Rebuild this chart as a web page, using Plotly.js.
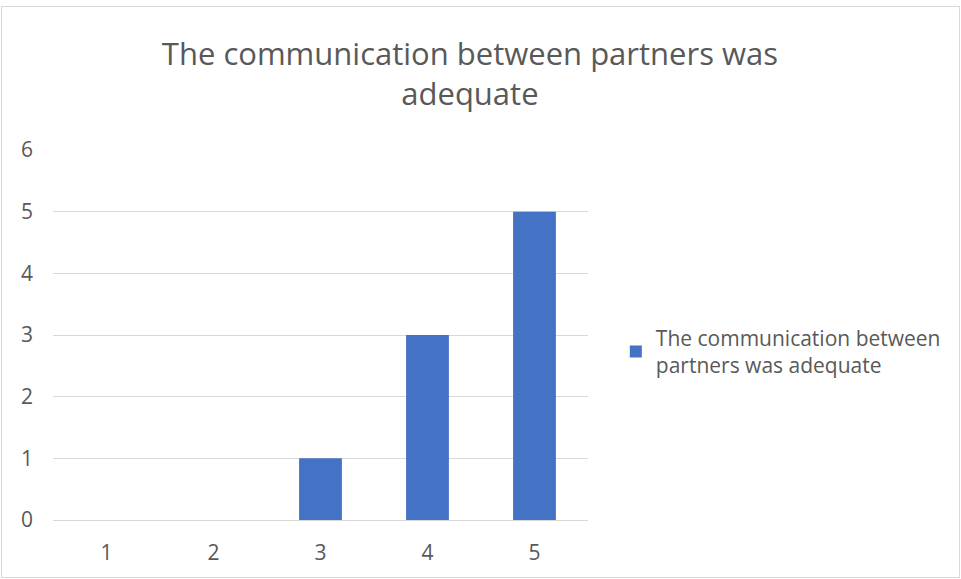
<!DOCTYPE html>
<html>
<head>
<meta charset="utf-8">
<script src="https://cdn.plot.ly/plotly-3.0.1.min.js"></script>
<style>
html,body{margin:0;padding:0;background:#fff;}
#wrap{position:relative;width:961px;height:579px;}
#chart{width:961px;height:579px;}
#frame{position:absolute;left:1px;top:6px;width:957px;height:570px;border:1px solid #d9d9d9;pointer-events:none;}
</style>
</head>
<body>
<div id="wrap"><div id="chart"></div><div id="frame"></div></div>
<script>
var categories = ['1', '2', '3', '4', '5'];
var values = [0, 0, 1, 3, 5];
var seriesName = 'The communication between<br>partners was adequate';
var chartTitle = 'The communication between partners was<br>adequate';
var yTicks = [0, 1, 2, 3, 4, 5, 6];

var font = '"Open Sans", "Liberation Sans", sans-serif';

Plotly.newPlot('chart', [{
  type: 'bar',
  x: categories,
  y: values,
  name: seriesName,
  marker: {color: '#4472C4'},
  width: 0.4,
  showlegend: true
}], {
  width: 961, height: 579,
  margin: {l: 53, r: 373, t: 150, b: 59},
  paper_bgcolor: '#fff', plot_bgcolor: '#fff',
  font: {family: font, color: '#595959'},
  title: {
    text: chartTitle,
    font: {family: font, size: 31, color: '#595959'},
    x: 0.489, xref: 'container', xanchor: 'center',
    y: 0.888, yref: 'container', yanchor: 'middle'
  },
  xaxis: {
    type: 'category',
    tickfont: {size: 21, color: '#595959'},
    showgrid: false, zeroline: false, showline: false, ticks: '',
    ticklabelstandoff: 18
  },
  yaxis: {
    range: [0, 6],
    tickvals: yTicks,
    tickfont: {size: 21, color: '#595959'},
    showgrid: true, gridcolor: '#d9d9d9', gridwidth: 1,
    zeroline: true, zerolinecolor: '#d9d9d9', zerolinewidth: 1,
    showline: false, ticks: '',
    ticklabelstandoff: 19
  },
  showlegend: true,
  legend: {
    x: 1.052, xanchor: 'left',
    y: 0.455, yanchor: 'middle',
    font: {family: font, size: 21, color: '#595959'},
    bgcolor: 'rgba(0,0,0,0)',
    itemwidth: 30
  },
  bargap: 0.6
}, {displayModeBar: false, staticPlot: true});
</script>
</body>
</html>
